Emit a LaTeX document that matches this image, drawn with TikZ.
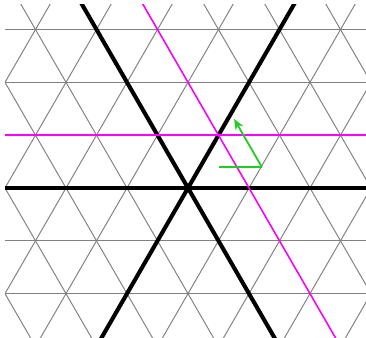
\documentclass[tikz,border=0pt]{standalone}
\usepackage{tikz}
\usetikzlibrary{arrows.meta}
\usepackage{xcolor}
\definecolor{GridGray}{HTML}{808080}
\definecolor{Mag}{HTML}{FF00FF}
\definecolor{Vec}{HTML}{22CC22}

\begin{document}
\begin{tikzpicture}[x=1cm,y=1cm,
    gridline/.style={GridGray,line width=0.45pt},
    axisline/.style={black,line width=1.9pt},
    magline/.style={Mag,line width=0.7pt},
    vecline/.style={Vec,line width=0.85pt}]
  \useasboundingbox (-3.082,-2.443) rectangle (2.918,3.082);
  \clip (-3,-3) rectangle (3,3);
  % lattice
  \foreach \k in {-4,...,4}{
    \draw[gridline] (-3.5,{\k*sqrt(3)/2}) -- (3.5,{\k*sqrt(3)/2});
  }
  \foreach \n in {-6,...,6}{
    \draw[gridline] ([shift={(60:-4)}]\n,0) -- ([shift={(60:4)}]\n,0);
    \draw[gridline] ([shift={(120:-4)}]\n,0) -- ([shift={(120:4)}]\n,0);
  }
  % axes through the origin
  \draw[axisline] (-3.5,0) -- (3.5,0);
  \draw[axisline] (60:-4) -- (60:4);
  \draw[axisline] (120:-4) -- (120:4);
  % shifted lines
  \draw[magline] (-3.5,0.866) -- (3.5,0.866);
  \draw[magline] ([shift={(120:-4)}]1,0) -- ([shift={(120:4)}]1,0);
  % vectors
  \coordinate (vstart) at (0.51,0.345);
  \coordinate (vcorner) at (1.21,0.345);
  \coordinate (vtip) at (0.755,1.133);
  \draw[vecline] (vstart) -- (vcorner);
  \draw[vecline,-{Stealth[length=5pt,width=4pt,inset=1.5pt]}] (vcorner) -- (vtip);
\end{tikzpicture}
\end{document}
